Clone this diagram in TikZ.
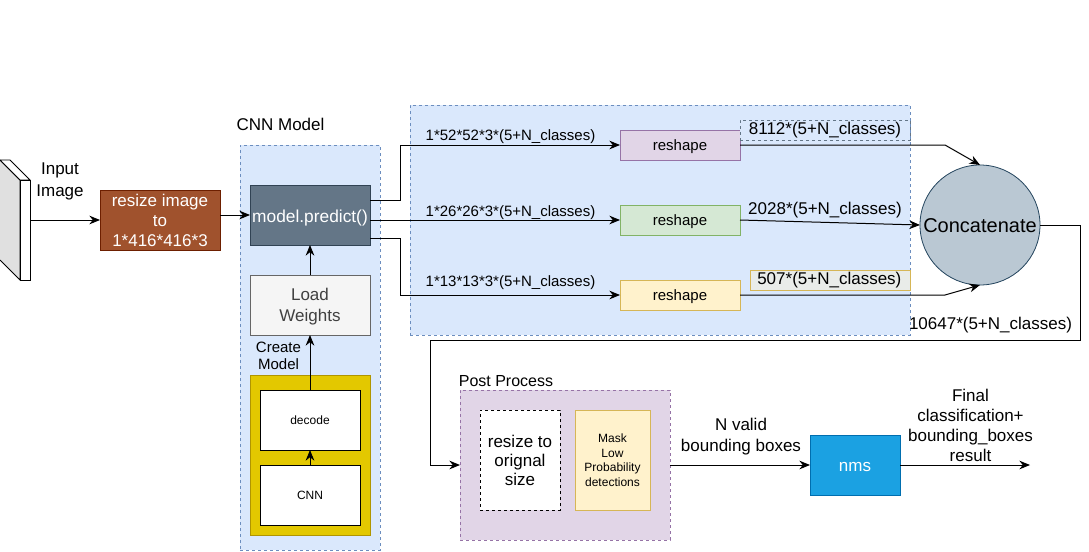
\documentclass[tikz,border=0pt]{standalone}
\usepackage{fontspec}
\setmainfont{Liberation Sans}
\usetikzlibrary{arrows.meta,calc}
\definecolor{cblue}{HTML}{DAE8FC}
\definecolor{cblueb}{HTML}{6C8EBF}
\definecolor{cpurp}{HTML}{E1D5E7}
\definecolor{cpurpb}{HTML}{9673A6}
\definecolor{cgreen}{HTML}{D5E8D4}
\definecolor{cgreenb}{HTML}{82B366}
\definecolor{cyel}{HTML}{FFF2CC}
\definecolor{cyelb}{HTML}{D6B656}
\definecolor{cbrown}{HTML}{A0522D}
\definecolor{cbrownb}{HTML}{6D1F00}
\definecolor{cslate}{HTML}{647687}
\definecolor{cslateb}{HTML}{314354}
\definecolor{cgray}{HTML}{F5F5F5}
\definecolor{cgrayb}{HTML}{666666}
\definecolor{cgold}{HTML}{E3C800}
\definecolor{cgoldb}{HTML}{B09500}
\definecolor{cnms}{HTML}{1BA1E2}
\definecolor{cnmsb}{HTML}{006EAF}
\definecolor{ccirc}{HTML}{BAC8D3}
\definecolor{ccircb}{HTML}{23445D}
\newcommand{\fsA}{\fontsize{11.25pt}{12.75pt}\selectfont}
\newcommand{\fsB}{\fontsize{12.75pt}{15pt}\selectfont}
\newcommand{\fsC}{\fontsize{12.75pt}{14.6pt}\selectfont}
\newcommand{\fsD}{\fontsize{9pt}{10.9pt}\selectfont}
\newcommand{\dn}[2][1.5pt]{\raisebox{0pt}[\dimexpr\height+2\dimexpr#1\relax\relax]{#2}}
\tikzset{
  x=0.75pt,y=-0.75pt,
  px/.style 2 args={minimum width=#1*0.75pt,minimum height=#2*0.75pt,inner sep=0pt,outer sep=0pt,align=center},
  box/.style={draw,line width=0.6pt},
  cont/.style={draw=cblueb,fill=cblue,dashed,line width=0.6pt,dash pattern=on 2.5pt off 2pt},
  lbl/.style={inner sep=0pt,outer sep=0pt,align=center,font=\fsB},
  conn/.style={draw,line width=0.75pt,-{Stealth[length=8pt,width=6.5pt]}},
}
\begin{document}
\begin{tikzpicture}
\useasboundingbox (0,0) rectangle (1089,551);
\fill[white] (0,0) rectangle (1089,551);
% containers
\node[cont,px={140}{405},anchor=north west] (cnnc) at (240,145) {};
\node[cont,px={500}{230},anchor=north west] (blue) at (410,105) {};
\node[draw=cpurpb,fill=cpurp,dashed,line width=0.6pt,dash pattern=on 2.5pt off 2pt,px={210}{150},anchor=north west] (post) at (460,390) {};
% input image
\filldraw[fill=black!12,draw=black,line width=0.6pt] (0,160) -- (20,180) -- (20,280) -- (0,260);
\filldraw[fill=white,draw=black,line width=0.6pt] (0,160) -- (10,160) -- (30,180) -- (20,180) -- cycle;
\node[box,fill=white,px={10}{100},anchor=north west] (input) at (20,180) {};
\node[lbl,font=\fontsize{12.75pt}{16.5pt}\selectfont] (inlbl) at (60,181) {Input\\Image};
% main nodes
\node[box,draw=cbrownb,fill=cbrown,text=white,px={120}{60},font=\fsB,anchor=north west] (resize) at (100,190) {resize image\\to\\1*416*416*3};
\node[box,draw=cslateb,fill=cslate,text=white,px={120}{60},font=\fontsize{13pt}{15pt}\selectfont,anchor=north west] (pred) at (250,185) {\dn[2pt]{model.predict()}};
\node[box,draw=cgrayb,fill=cgray,text=black!75,px={120}{60},font=\fontsize{12.75pt}{15.75pt}\selectfont,anchor=north west] (load) at (250,275) {\dn{\begin{tabular}{@{}c@{}}Load\\Weights\end{tabular}}};
\node[box,draw=cgoldb,fill=cgold,px={120}{160},anchor=north west] (gold) at (250,375) {};
\node[box,fill=white,px={100}{60},font=\fsD,anchor=north west] (decode) at (260,390) {decode};
\node[box,fill=white,px={100}{60},font=\fsD,anchor=north west] (cnn) at (260,465) {CNN};
\node[lbl,font=\fsC] (cnnlbl) at (280.5,124) {CNN Model};
\node[lbl,font=\fontsize{11.25pt}{12.75pt}\selectfont,text width=60pt] (create) at (278.5,356) {Create\\Model};
% reshapes
\node[box,draw=cpurpb,fill=cpurp,px={120}{30},font=\fsA,anchor=north west] (r1) at (620,130) {\dn{reshape}};
\node[box,draw=cgreenb,fill=cgreen,px={120}{30},font=\fsA,anchor=north west] (r2) at (620,205) {\dn{reshape}};
\node[box,draw=cyelb,fill=cyel,px={120}{30},font=\fsA,anchor=north west] (r3) at (620,280) {\dn{reshape}};
\node[draw=cslate,fill=cblue,dashed,line width=0.6pt,dash pattern=on 2.5pt off 2pt,px={170}{20},anchor=north west,font=\fsC] (o1) at (740,120) {8112*(5+N\_classes)};
\node[lbl,font=\fsC] (o2) at (825,210) {2028*(5+N\_classes)};
\node[draw=cyelb,fill=cyel!40!cblue,line width=0.6pt,px={160}{20},anchor=north west,font=\fsC] (o3) at (750,270) {\hspace*{-1pt}507*(5+N\_classes)};
\node[circle,draw=ccircb,fill=ccirc,line width=0.6pt,minimum size=90pt,inner sep=0pt,outer sep=0pt,font=\fontsize{15pt}{17pt}\selectfont] (conc) at (980,225) {\dn[0.75pt]{Concatenate}};
\node[lbl,font=\fsC] (total) at (990.5,325) {10647*(5+N\_classes)};
\node[lbl,font=\fontsize{11.25pt}{13pt}\selectfont] (l1) at (510.5,137) {1*52*52*3*(5+N\_classes)};
\node[lbl,font=\fontsize{11.25pt}{13pt}\selectfont] (l2) at (510.5,213) {1*26*26*3*(5+N\_classes)};
\node[lbl,font=\fontsize{11.25pt}{13pt}\selectfont] (l3) at (510.5,283) {1*13*13*3*(5+N\_classes)};
% post
\node[lbl,font=\fontsize{12pt}{14pt}\selectfont] (plbl) at (506,381) {Post Process};
\node[draw,dashed,fill=white,line width=0.75pt,dash pattern=on 2.5pt off 2pt,px={80}{100},font=\fontsize{12.75pt}{14.25pt}\selectfont,anchor=north west] (rs) at (480,410) {resize to\\orignal\\size};
\node[box,draw=cyelb,fill=cyel,px={75}{100},font=\fsD,anchor=north west] (mask) at (575,410) {Mask\\Low\\Probability\\detections};
\node[box,draw=cnmsb,fill=cnms,text=white,px={90}{60},font=\fsB,anchor=north west] (nms) at (810,435) {\dn{nms}};
\node[lbl,font=\fontsize{12.75pt}{15.75pt}\selectfont] (nvalid) at (741,436.5) {N valid\\bounding boxes};
\node[lbl,font=\fontsize{12.75pt}{15pt}\selectfont] (final) at (970.5,425) {Final\\classification+\\bounding\_boxes\\result};
% connectors
\coordinate (end) at (1030,465);
\draw[conn] (input.east |- 0,220) -- (resize.west);
\draw[conn] (resize.east |- 0,215) -- (pred.west |- 0,215);
\draw[conn] (pred.east |- 0,200) -- (400,200) -- (400,145) -- (r1.west);
\draw[conn] (pred.east |- 0,220) -- (r2.west);
\draw[conn] (pred.east |- 0,238) -- (400,238) -- (400,295) -- (r3.west);
\draw[conn] (load.north) -- (pred.south);
\draw[conn] (decode.north) -- (load.south);
\draw[conn] (cnn.north -| decode.north) -- (decode.south);
\draw[conn] (r1.east) -- (945,145) -- (conc.north);
\draw[conn] (r2.east) -- (conc.west);
\draw[conn] (r3.east) -- (945,295) -- (conc.south);
\draw[conn] (conc.east) -- (1080,225) -- (1080,340) -- (430,340) -- (430,465) -- (post.west |- 0,465);
\draw[conn] (post.east |- 0,465) -- (nms.west |- 0,465);
\draw[conn] (nms.east |- 0,465) -- (end);
\end{tikzpicture}
\end{document}
